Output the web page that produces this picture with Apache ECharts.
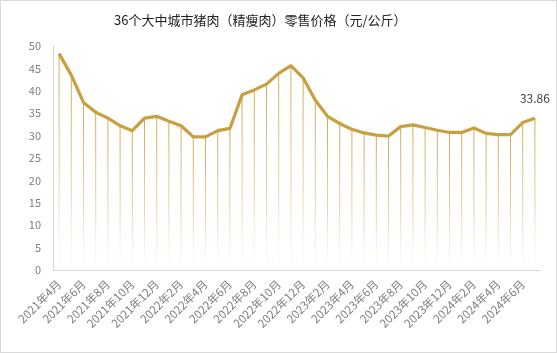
<!DOCTYPE html>
<html>
<head>
<meta charset="utf-8">
<script src="https://cdn.jsdelivr.net/npm/echarts@6/dist/echarts.min.js"></script>
<style>
  html, body { margin: 0; padding: 0; background: #fff; }
  #main { width: 557px; height: 353px; box-sizing: border-box; border: 1px solid #d9d9d9; }
</style>
</head>
<body>
<div id="main"></div>
<script>
// 月份：2021年4月 - 2024年7月
var months = ['2021年4月', '2021年5月', '2021年6月', '2021年7月', '2021年8月', '2021年9月', '2021年10月', '2021年11月', '2021年12月',
    '2022年1月', '2022年2月', '2022年3月', '2022年4月', '2022年5月', '2022年6月', '2022年7月', '2022年8月', '2022年9月', '2022年10月', '2022年11月', '2022年12月',
    '2023年1月', '2023年2月', '2023年3月', '2023年4月', '2023年5月', '2023年6月', '2023年7月', '2023年8月', '2023年9月', '2023年10月', '2023年11月', '2023年12月',
    '2024年1月', '2024年2月', '2024年3月', '2024年4月', '2024年5月', '2024年6月', '2024年7月'];
// 零售价格（元/公斤）
var prices = [48.3, 43.5, 37.4, 35.2, 33.9, 32.2, 31.1, 33.9, 34.3, 33.2, 32.2,
    29.7, 29.7, 31.1, 31.6, 39.1, 40.2, 41.5, 43.9, 45.6, 42.9,
    37.9, 34.3, 32.7, 31.4, 30.6, 30.1, 29.9, 32.0, 32.4, 31.8,
    31.2, 30.7, 30.7, 31.7, 30.5, 30.2, 30.2, 32.9, 33.86];
var yTicks = [0, 50, 5];

var myChart = echarts.init(document.getElementById('main'));
var fontFamily = '"Noto Sans CJK SC", "Noto Sans", sans-serif';
var lastIdx = prices.length - 1;

var option = {
    animation: false,
    backgroundColor: '#fff',
    textStyle: { fontFamily: fontFamily },
    title: {
        text: '36个大中城市猪肉（精瘦肉）零售价格（元/公斤）',
        left: 108,
        top: 8,
        textStyle: { fontSize: 13, fontWeight: 'normal', color: '#222', fontFamily: fontFamily }
    },
    grid: { left: 52, right: 15, top: 45, bottom: 82 },
    xAxis: {
        type: 'category',
        data: months,
        boundaryGap: true,
        axisLine: { lineStyle: { color: '#d9d9d9' } },
        axisTick: { show: false },
        axisLabel: {
            interval: 1,
            rotate: 45,
            margin: 12,
            fontSize: 11.5,
            color: '#7f7f7f'
        }
    },
    yAxis: {
        type: 'value',
        min: yTicks[0],
        max: yTicks[1],
        interval: yTicks[2],
        axisLine: { show: true, lineStyle: { color: '#d9d9d9' } },
        axisTick: { show: false },
        splitLine: { show: false },
        axisLabel: { fontSize: 11, color: '#7f7f7f', margin: 12 }
    },
    series: [
        {
            // 垂直线
            type: 'bar',
            data: prices.map(function (v, i) {
                return i === lastIdx ? { value: v, label: { show: true } } : v;
            }),
            barWidth: 1,
            silent: true,
            z: 1,
            itemStyle: {
                color: new echarts.graphic.LinearGradient(0, 0, 0, 1, [
                    { offset: 0, color: 'rgba(205,165,70,0.95)' },
                    { offset: 0.6, color: 'rgba(220,185,110,0.6)' },
                    { offset: 1, color: 'rgba(240,220,180,0.05)' }
                ])
            },
            label: {
                show: false,
                position: 'top',
                distance: 14,
                fontSize: 12,
                color: '#404040',
                formatter: function (p) { return p.value.toFixed(2); }
            }
        },
        {
            type: 'line',
            data: prices,
            showSymbol: false,
            symbol: 'none',
            z: 3,
            lineStyle: { color: '#c9a03f', width: 3.2 }
        }
    ]
};
myChart.setOption(option);
</script>
</body>
</html>
